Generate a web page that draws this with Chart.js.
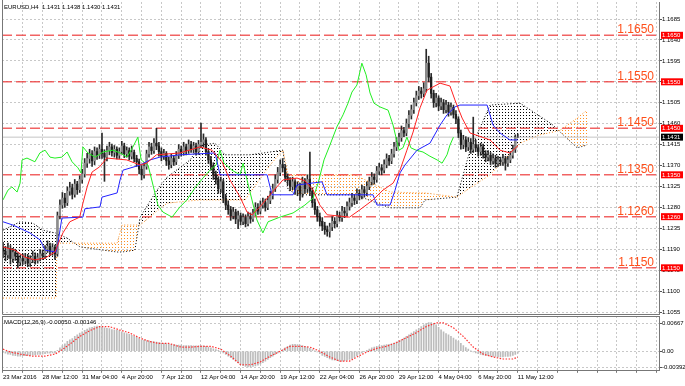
<!DOCTYPE html>
<html><head><meta charset="utf-8">
<script src="https://cdn.jsdelivr.net/npm/chart.js@4.4.1/dist/chart.umd.min.js"></script>
<style>
html,body{margin:0;padding:0;background:#fff;width:685px;height:386px;overflow:hidden;}
#main{position:absolute;left:0;top:0;}
#macd{position:absolute;left:0;top:300px;}
</style></head><body>
<canvas id="main" width="685" height="320"></canvas>
<canvas id="macd" width="685" height="86"></canvas>
<script>
const symbolTitle = 'EURUSD,H4  1.1431 1.1438 1.1430 1.1431';
const macdTitle = 'MACD(12,26,9) -0.00050 -0.00146';
const bid = 1.1431;
const levels = [1.1650, 1.1550, 1.1450, 1.1350, 1.1260, 1.1150];
const levelLabels = ['1.1650', '1.1550', '1.1450', '1.1350', '1.1260', '1.1150'];
const priceTicks = [1.1055,1.1100,1.1145,1.1190,1.1235,1.1280,1.1325,1.1370,1.1415,1.1460,1.1505,1.1550,1.1595,1.1640,1.1685];
const macdTicks = [0.00667, 0, -0.00392];
const macdTickLabels = ['0.00667', '0.00', '-0.00392'];
const xLabelBars = [0,16,32,48,64,80,96,112,128,144,160,176,192,208];
const xLabels = ['23 Mar 2016','28 Mar 12:00','31 Mar 04:00','4 Apr 20:00','7 Apr 12:00','12 Apr 04:00','14 Apr 20:00','19 Apr 12:00','22 Apr 04:00','26 Apr 20:00','29 Apr 12:00','4 May 04:00','6 May 20:00','11 May 12:00'];

const opens = [
1.1195,1.1186,1.1178,1.1192,1.1170,1.1183,1.1175,1.1162,1.1170,1.1165,
1.1172,1.1160,1.1168,1.1175,1.1166,1.1172,1.1180,1.1176,1.1190,1.1196,
1.1185,1.1194,1.1180,1.1262,1.1285,1.1300,1.1290,1.1315,1.1322,1.1308,
1.1330,1.1318,1.1340,1.1352,1.1375,1.1385,1.1395,1.1380,1.1400,1.1392,
1.1405,1.1396,1.1388,1.1402,1.1410,1.1398,1.1405,1.1392,1.1400,1.1412,
1.1395,1.1402,1.1390,1.1398,1.1385,1.1378,1.1362,1.1350,1.1368,1.1395,
1.1410,1.1402,1.1418,1.1412,1.1400,1.1390,1.1396,1.1380,1.1372,1.1385,
1.1378,1.1392,1.1405,1.1398,1.1410,1.1402,1.1415,1.1405,1.1412,1.1400,
1.1415,1.1420,1.1425,1.1400,1.1382,1.1370,1.1350,1.1340,1.1320,1.1335,
1.1300,1.1285,1.1275,1.1262,1.1270,1.1255,1.1262,1.1250,1.1258,1.1245,
1.1260,1.1255,1.1268,1.1280,1.1272,1.1285,1.1290,1.1280,1.1295,1.1305,
1.1320,1.1340,1.1355,1.1372,1.1365,1.1345,1.1338,1.1325,1.1335,1.1318,
1.1325,1.1310,1.1335,1.1320,1.1340,1.1315,1.1290,1.1275,1.1260,1.1250,
1.1240,1.1232,1.1228,1.1238,1.1250,1.1245,1.1262,1.1258,1.1272,1.1268,
1.1282,1.1290,1.1300,1.1295,1.1310,1.1305,1.1318,1.1312,1.1325,1.1335,
1.1345,1.1340,1.1358,1.1365,1.1360,1.1372,1.1385,1.1380,1.1395,1.1410,
1.1420,1.1430,1.1445,1.1440,1.1460,1.1478,1.1490,1.1505,1.1520,1.1530,
1.1525,1.1535,1.1590,1.1560,1.1525,1.1505,1.1515,1.1498,1.1505,1.1490,
1.1500,1.1485,1.1495,1.1480,1.1470,1.1440,1.1415,1.1425,1.1410,1.1420,
1.1405,1.1415,1.1408,1.1400,1.1410,1.1395,1.1388,1.1392,1.1380,1.1385,
1.1375,1.1382,1.1378,1.1385,1.1375,1.1382,1.1392,1.1405,1.1431];
const highs = [
1.1205,1.1196,1.1203,1.1198,1.1192,1.1190,1.1182,1.1178,1.1180,1.1181,
1.1179,1.1176,1.1186,1.1182,1.1180,1.1189,1.1188,1.1198,1.1208,1.1203,
1.1202,1.1199,1.1270,1.1296,1.1312,1.1310,1.1324,1.1334,1.1330,1.1340,
1.1336,1.1348,1.1362,1.1385,1.1396,1.1405,1.1402,1.1410,1.1408,1.1415,
1.1440,1.1404,1.1412,1.1420,1.1416,1.1413,1.1410,1.1408,1.1422,1.1418,
1.1410,1.1408,1.1412,1.1403,1.1392,1.1384,1.1370,1.1376,1.1403,1.1420,
1.1418,1.1428,1.1450,1.1420,1.1408,1.1405,1.1400,1.1388,1.1394,1.1392,
1.1400,1.1415,1.1412,1.1420,1.1416,1.1425,1.1422,1.1420,1.1418,1.1424,
1.1461,1.1438,1.1430,1.1406,1.1390,1.1376,1.1358,1.1346,1.1345,1.1340,
1.1308,1.1294,1.1282,1.1280,1.1276,1.1272,1.1268,1.1266,1.1264,1.1270,
1.1268,1.1276,1.1290,1.1288,1.1294,1.1300,1.1298,1.1304,1.1315,1.1330,
1.1350,1.1366,1.1382,1.1385,1.1372,1.1352,1.1344,1.1345,1.1340,1.1335,
1.1332,1.1345,1.1342,1.1350,1.1399,1.1322,1.1298,1.1282,1.1268,1.1258,
1.1248,1.1240,1.1246,1.1260,1.1258,1.1272,1.1270,1.1282,1.1280,1.1292,
1.1300,1.1310,1.1308,1.1320,1.1318,1.1328,1.1325,1.1335,1.1345,1.1355,
1.1352,1.1368,1.1375,1.1372,1.1382,1.1395,1.1392,1.1405,1.1420,1.1430,
1.1440,1.1455,1.1452,1.1470,1.1488,1.1500,1.1515,1.1530,1.1540,1.1538,
1.1548,1.1620,1.1605,1.1568,1.1532,1.1525,1.1520,1.1515,1.1512,1.1510,
1.1506,1.1504,1.1500,1.1488,1.1475,1.1446,1.1435,1.1432,1.1430,1.1428,
1.1474,1.1425,1.1415,1.1418,1.1416,1.1402,1.1402,1.1398,1.1395,1.1392,
1.1390,1.1388,1.1394,1.1390,1.1390,1.1400,1.1414,1.1436,1.1438];
const lows = [
1.1172,1.1165,1.1170,1.1158,1.1162,1.1166,1.1150,1.1155,1.1157,1.1158,
1.1152,1.1153,1.1161,1.1158,1.1160,1.1165,1.1168,1.1170,1.1183,1.1176,
1.1177,1.1168,1.1175,1.1255,1.1278,1.1280,1.1284,1.1306,1.1298,1.1302,
1.1308,1.1312,1.1332,1.1345,1.1366,1.1375,1.1368,1.1372,1.1383,1.1385,
1.1385,1.1336,1.1380,1.1393,1.1390,1.1388,1.1384,1.1385,1.1395,1.1387,
1.1388,1.1382,1.1384,1.1378,1.1368,1.1352,1.1339,1.1343,1.1362,1.1388,
1.1394,1.1396,1.1404,1.1390,1.1380,1.1383,1.1370,1.1362,1.1365,1.1370,
1.1372,1.1385,1.1390,1.1392,1.1393,1.1396,1.1398,1.1397,1.1392,1.1394,
1.1408,1.1410,1.1392,1.1374,1.1360,1.1340,1.1330,1.1310,1.1312,1.1290,
1.1275,1.1265,1.1252,1.1255,1.1245,1.1234,1.1242,1.1243,1.1238,1.1240,
1.1246,1.1250,1.1262,1.1265,1.1266,1.1278,1.1272,1.1275,1.1288,1.1298,
1.1314,1.1332,1.1348,1.1356,1.1336,1.1328,1.1316,1.1318,1.1308,1.1305,
1.1295,1.1302,1.1310,1.1312,1.1305,1.1280,1.1265,1.1250,1.1240,1.1230,
1.1222,1.1218,1.1216,1.1230,1.1236,1.1238,1.1250,1.1250,1.1258,1.1262,
1.1274,1.1282,1.1286,1.1288,1.1296,1.1298,1.1302,1.1305,1.1318,1.1328,
1.1330,1.1334,1.1350,1.1350,1.1354,1.1365,1.1370,1.1374,1.1388,1.1402,
1.1412,1.1422,1.1432,1.1434,1.1452,1.1470,1.1482,1.1498,1.1512,1.1515,
1.1518,1.1528,1.1550,1.1515,1.1495,1.1496,1.1488,1.1490,1.1482,1.1483,
1.1476,1.1478,1.1472,1.1460,1.1430,1.1405,1.1406,1.1400,1.1402,1.1396,
1.1398,1.1400,1.1390,1.1392,1.1386,1.1378,1.1380,1.1372,1.1373,1.1366,
1.1368,1.1370,1.1370,1.1360,1.1368,1.1376,1.1386,1.1398,1.1430];
const closes = [
1.1186,1.1178,1.1192,1.1170,1.1183,1.1175,1.1162,1.1170,1.1165,1.1172,
1.1160,1.1168,1.1175,1.1166,1.1172,1.1180,1.1176,1.1190,1.1196,1.1185,
1.1194,1.1180,1.1262,1.1285,1.1300,1.1290,1.1315,1.1322,1.1308,1.1330,
1.1318,1.1340,1.1352,1.1375,1.1385,1.1395,1.1380,1.1400,1.1392,1.1405,
1.1396,1.1388,1.1402,1.1410,1.1398,1.1405,1.1392,1.1400,1.1412,1.1395,
1.1402,1.1390,1.1398,1.1385,1.1378,1.1362,1.1350,1.1368,1.1395,1.1410,
1.1402,1.1418,1.1412,1.1400,1.1390,1.1396,1.1380,1.1372,1.1385,1.1378,
1.1392,1.1405,1.1398,1.1410,1.1402,1.1415,1.1405,1.1412,1.1400,1.1415,
1.1420,1.1425,1.1400,1.1382,1.1370,1.1350,1.1340,1.1320,1.1335,1.1300,
1.1285,1.1275,1.1262,1.1270,1.1255,1.1262,1.1250,1.1258,1.1245,1.1260,
1.1255,1.1268,1.1280,1.1272,1.1285,1.1290,1.1280,1.1295,1.1305,1.1320,
1.1340,1.1355,1.1372,1.1365,1.1345,1.1338,1.1325,1.1335,1.1318,1.1325,
1.1310,1.1335,1.1320,1.1340,1.1315,1.1290,1.1275,1.1260,1.1250,1.1240,
1.1232,1.1228,1.1238,1.1250,1.1245,1.1262,1.1258,1.1272,1.1268,1.1282,
1.1290,1.1300,1.1295,1.1310,1.1305,1.1318,1.1312,1.1325,1.1335,1.1345,
1.1340,1.1358,1.1365,1.1360,1.1372,1.1385,1.1380,1.1395,1.1410,1.1420,
1.1430,1.1445,1.1440,1.1460,1.1478,1.1490,1.1505,1.1520,1.1530,1.1525,
1.1535,1.1590,1.1560,1.1525,1.1505,1.1515,1.1498,1.1505,1.1490,1.1500,
1.1485,1.1495,1.1480,1.1470,1.1440,1.1415,1.1425,1.1410,1.1420,1.1405,
1.1415,1.1408,1.1400,1.1410,1.1395,1.1388,1.1392,1.1380,1.1385,1.1375,
1.1382,1.1378,1.1385,1.1375,1.1382,1.1392,1.1405,1.1431,1.1431];

const tenkanBars = [0,4.8,8.9,12.9,17,21,21.8,24.2,27,31,32.3,34,36,39,42,50,55.4,58,62,71.5,79.6,84.4,88.5,91.7,95.8,98.6,100.6,103.8,107.9,113.1,118.8,122,125.3,128,131,140,144,149.5,153.5,157.6,160.4,163.2,165.7,168.5,171.3,176.6,180.6,182.6,185.5,188.7,196.8,200.8,204.8,208];
const tenkanVals = [1.1195,1.1188,1.1173,1.1167,1.1171,1.1184,1.1195,1.1225,1.1249,1.1259,1.1289,1.1324,1.1356,1.1367,1.1386,1.1382,1.1371,1.1375,1.1393,1.1397,1.1410,1.1403,1.1378,1.1339,1.1302,1.1270,1.1264,1.1281,1.1307,1.1339,1.1343,1.1337,1.1317,1.1285,1.1264,1.1259,1.1274,1.1296,1.1317,1.1332,1.1360,1.1403,1.1442,1.1494,1.1532,1.1547,1.1541,1.1511,1.1472,1.1440,1.1425,1.1403,1.1397,1.1412];
const kijunBars = [0,4,10.9,15,17,21.4,22.2,23.8,32.3,33.1,39.2,40,46.1,47.3,48.5,55.4,59.4,63.4,71.5,85.7,87.7,106.7,108.7,117.2,118.8,128.9,130.9,149.5,151.1,156.4,158.4,160.4,162.4,167.3,172.5,176.6,179.4,182.6,184.6,195.6,198,200.8,204.8,208];
const kijunVals = [1.1249,1.1242,1.1225,1.1210,1.1188,1.1184,1.1203,1.1257,1.1259,1.1277,1.1281,1.1302,1.1311,1.1339,1.1360,1.1371,1.1382,1.1388,1.1393,1.1397,1.1350,1.1350,1.1307,1.1307,1.1328,1.1335,1.1307,1.1307,1.1285,1.1285,1.1317,1.1354,1.1371,1.1403,1.1418,1.1457,1.1479,1.1496,1.1500,1.1500,1.1457,1.1440,1.1425,1.1425];
const chikouBars = [0,2,3.6,5.7,6.9,7.7,9.7,12.9,14.9,17,19,21,23.8,25.9,27.9,30.3,31.5,32.3,34.3,37.2,40.4,44.4,47.3,50.1,52.5,54.5,55.8,58.6,60.6,62.6,64.6,68.3,71.5,74.3,77.6,80.8,83.6,86.1,87.7,89.3,92.5,95.8,97,98.6,100.6,102.6,105,107.1,111.9,117.2,122,125.3,127.3,129.7,132.1,134.9,137.4,139.4,141,143,145,146.7,148.3,149.9,152.3,155.6,157.6,160,161.6,163.2,164.8,166.9,169.7,172.5,175.4,177.4,179.4,180.6,182];
const chikouVals = [1.1296,1.1317,1.1324,1.1313,1.1332,1.1382,1.1386,1.1378,1.1397,1.1403,1.1388,1.1386,1.1388,1.1399,1.1378,1.1365,1.1354,1.1410,1.1397,1.1388,1.1399,1.1403,1.1397,1.1388,1.1410,1.1431,1.1382,1.1371,1.1328,1.1285,1.1270,1.1259,1.1281,1.1296,1.1322,1.1343,1.1360,1.1371,1.1403,1.1375,1.1360,1.1350,1.1375,1.1339,1.1296,1.1253,1.1225,1.1249,1.1259,1.1268,1.1285,1.1300,1.1332,1.1382,1.1414,1.1453,1.1479,1.1504,1.1528,1.1543,1.1590,1.1565,1.1526,1.1504,1.1496,1.1489,1.1457,1.1403,1.1408,1.1431,1.1408,1.1403,1.1399,1.1390,1.1382,1.1375,1.1393,1.1414,1.1431];
const cloudBars = [0,6.9,12.1,16.2,21,21.4,21.8,25.9,31.1,46.1,48.1,53.3,55.4,62.2,66.3,75.6,79.6,85.7,89.7,97.8,99.8,107.9,113.1,115.2,120,142.2,156.4,168.5,170.5,183.4,188.7,196.8,208.9,217,222.2,225.1,232,236];
const spanB = [1.1231,1.1249,1.1246,1.1231,1.1225,1.1225,1.1223,1.1214,1.1195,1.1184,1.1184,1.1188,1.1259,1.1317,1.1345,1.1382,1.1414,1.1418,1.1393,1.1393,1.1393,1.1399,1.1403,1.1317,1.1307,1.1307,1.1279,1.1279,1.1296,1.1302,1.1403,1.1500,1.1504,1.1476,1.1457,1.1442,1.1408,1.1414];
const spanA = [1.1085,1.1085,1.1085,1.1085,1.1085,1.1085,1.1203,1.1203,1.1203,1.1203,1.1242,1.1242,1.1242,1.1272,1.1289,1.1294,1.1296,1.1296,1.1296,1.1296,1.1311,1.1371,1.1403,1.1350,1.1350,1.1350,1.1313,1.1311,1.1311,1.1302,1.1322,1.1350,1.1418,1.1436,1.1442,1.1446,1.1472,1.1489];

const macdHist = [
-0.0003,-0.0005,-0.0007,-0.0008,-0.0010,-0.0011,-0.0012,-0.0012,-0.0011,-0.0011,
-0.0010,-0.0010,-0.0009,-0.0009,-0.0008,-0.0008,-0.0007,-0.0006,-0.0005,-0.0005,
-0.0004,-0.0004,0.0002,0.0008,0.0014,0.0018,0.0024,0.0028,0.0031,0.0036,
0.0040,0.0044,0.0047,0.0051,0.0054,0.0057,0.0058,0.0060,0.0061,0.0060,
0.0059,0.0057,0.0056,0.0055,0.0053,0.0052,0.0051,0.0050,0.0047,0.0045,
0.0043,0.0041,0.0039,0.0036,0.0034,0.0031,0.0028,0.0027,0.0026,0.0025,
0.0024,0.0023,0.0022,0.0021,0.0020,0.0019,0.0018,0.0017,0.0016,0.0016,
0.0015,0.0015,0.0015,0.0014,0.0014,0.0014,0.0014,0.0013,0.0013,0.0013,
0.0013,0.0013,0.0012,0.0010,0.0008,0.0006,0.0004,0.0002,-0.0001,-0.0004,
-0.0008,-0.0012,-0.0016,-0.0020,-0.0024,-0.0028,-0.0032,-0.0035,-0.0037,-0.0038,
-0.0038,-0.0037,-0.0036,-0.0034,-0.0031,-0.0028,-0.0024,-0.0020,-0.0016,-0.0012,
-0.0008,-0.0004,0.0000,0.0004,0.0008,0.0012,0.0015,0.0017,0.0017,0.0016,
0.0015,0.0014,0.0012,0.0010,0.0007,0.0004,0.0001,-0.0002,-0.0006,-0.0010,
-0.0013,-0.0016,-0.0019,-0.0021,-0.0022,-0.0023,-0.0024,-0.0024,-0.0023,-0.0022,
-0.0020,-0.0018,-0.0015,-0.0011,-0.0007,-0.0004,-0.0001,0.0002,0.0005,0.0008,
0.0010,0.0012,0.0013,0.0014,0.0015,0.0016,0.0017,0.0018,0.0020,0.0022,
0.0025,0.0028,0.0032,0.0036,0.0040,0.0044,0.0048,0.0052,0.0056,0.0060,
0.0064,0.0068,0.0070,0.0070,0.0068,0.0064,0.0058,0.0052,0.0047,0.0043,
0.0040,0.0036,0.0032,0.0028,0.0024,0.0019,0.0014,0.0009,0.0005,0.0001,
-0.0002,-0.0004,-0.0006,-0.0008,-0.0009,-0.0010,-0.0011,-0.0012,-0.0013,-0.0013,
-0.0014,-0.0014,-0.0014,-0.0013,-0.0013,-0.0012,-0.0010,-0.0008,-0.0005];
const signalBars = [0,3,7,12,17,21,23,27,31,35,39,43,47,51,55,59,63,67,72,76,80,84,88,92,96,100,104,108,112,116,120,124,128,132,136,140,143,147,151,155,159,163,167,171,175,178,182,186,190,194,198,202,206,208];
const signalVals = [0.0005,-0.0002,-0.0007,-0.0012,-0.0012,-0.0007,0.0000,0.0017,0.0036,0.0050,0.0060,0.0060,0.0052,0.0045,0.0033,0.0024,0.0019,0.0019,0.0010,0.0010,0.0012,0.0012,0.0005,-0.0012,-0.0033,-0.0033,-0.0026,-0.0012,0.0000,0.0012,0.0012,0.0010,0.0000,-0.0014,-0.0024,-0.0024,-0.0014,-0.0002,0.0007,0.0012,0.0021,0.0033,0.0045,0.0060,0.0069,0.0069,0.0057,0.0036,0.0010,-0.0007,-0.0014,-0.0019,-0.0019,-0.00146];

// ---- layout constants ----
const F = "'Liberation Sans', Arial, sans-serif";
const xMin = -0.4, xMax = 265.05;
const yMin = 1.10507, yMax = 1.17216;
const macdMin = -0.00453, macdMax = 0.00858;
const gridBars = [];
for (let b = 0; b <= 264; b += 8) gridBars.push(b);

const pts = (xs, ys) => xs.map((x, i) => ({x: x, y: ys[i]}));

function dotPattern(color) {
  const c = document.createElement('canvas');
  c.width = 3; c.height = 3;
  const g = c.getContext('2d');
  g.fillStyle = color; g.fillRect(1, 1, 1, 1);
  return document.getElementById('main').getContext('2d').createPattern(c, 'repeat');
}
const patBlack = dotPattern('#000000');
const patOrange = dotPattern('#ff9020');

const mainDecor = {
  id: 'mainDecor',
  afterDraw(chart) {
    const {ctx, chartArea: a, scales: {y}} = chart;
    ctx.save();
    ctx.strokeStyle = '#777'; ctx.lineWidth = 1;
    ctx.beginPath();
    ctx.moveTo(Math.round(a.left) + 0.5, 0);
    ctx.lineTo(Math.round(a.left) + 0.5, Math.round(a.bottom) + 0.5);
    ctx.lineTo(Math.round(a.right), Math.round(a.bottom) + 0.5);
    ctx.stroke();
    ctx.font = '12px ' + F; ctx.fillStyle = '#ff4f1a';
    ctx.textAlign = 'right'; ctx.textBaseline = 'alphabetic';
    levels.forEach((lv, k) => ctx.fillText(levelLabels[k], a.right - 5, y.getPixelForValue(lv) - 2));
    ctx.font = '6px ' + F; ctx.textAlign = 'left'; ctx.textBaseline = 'middle';
    levels.forEach((lv, k) => {
      const py = y.getPixelForValue(lv);
      ctx.fillStyle = '#ff0000'; ctx.fillRect(a.right + 2, py - 3.5, 22, 7);
      ctx.fillStyle = '#ffffff'; ctx.fillText(levelLabels[k], a.right + 3, py + 0.5);
    });
    const pb = y.getPixelForValue(bid);
    ctx.fillStyle = '#000'; ctx.fillRect(a.right + 2, pb - 3.5, 22, 7);
    ctx.fillStyle = '#fff'; ctx.fillText(bid.toFixed(4), a.right + 3, pb + 0.5);
    ctx.fillStyle = '#000'; ctx.fillText(symbolTitle, 4, 7.5);
    ctx.restore();
  }
};

const macdDecor = {
  id: 'macdDecor',
  afterDraw(chart) {
    const {ctx, chartArea: a} = chart;
    ctx.save();
    ctx.strokeStyle = '#777'; ctx.lineWidth = 1;
    ctx.strokeRect(Math.round(a.left) + 0.5, Math.round(a.top) + 0.5, Math.round(a.right - a.left), Math.round(a.bottom - a.top));
    ctx.font = '6px ' + F; ctx.fillStyle = '#000'; ctx.textAlign = 'left'; ctx.textBaseline = 'middle';
    ctx.fillText(macdTitle, 4, a.top + 6);
    ctx.restore();
  }
};

const bars = closes.map((c, i) => i);
const hline = (v, color, width, dash, order) => ({
  type: 'line', data: [{x: xMin, y: v}, {x: xMax, y: v}], borderColor: color, borderWidth: width,
  borderDash: dash, pointRadius: 0, fill: false, order: order
});

const mainDatasets = [
  {type: 'line', data: pts(cloudBars, spanB), borderColor: '#000', borderWidth: 1, borderDash: [1, 2],
   pointRadius: 0, tension: 0, order: 30, fill: {target: '+1', above: patBlack, below: patOrange}},
  {type: 'line', data: pts(cloudBars, spanA), borderColor: '#ff9020', borderWidth: 1, borderDash: [1, 2],
   pointRadius: 0, tension: 0, order: 29, fill: false},
  ...levels.map(lv => hline(lv, 'rgba(238,60,60,0.8)', 1.5, [10, 4], 20)),
  hline(bid, '#c4c4c4', 1, [], 19),
  {type: 'bar', data: bars.map(i => ({x: i, y: [lows[i], highs[i]]})), backgroundColor: '#2a2a2a',
   barThickness: 1, grouped: false, order: 8},
  {type: 'bar', data: bars.map(i => ({x: i, y: [opens[i], closes[i]]})),
   backgroundColor: c => (closes[c.dataIndex] >= opens[c.dataIndex] ? '#8c8c8c' : '#1e1e1e'),
   barThickness: 1.6, grouped: false, order: 7},
  {type: 'line', data: pts(chikouBars, chikouVals), borderColor: '#22ee22', borderWidth: 1, pointRadius: 0, fill: false, order: 3},
  {type: 'line', data: pts(kijunBars, kijunVals), borderColor: '#2222ff', borderWidth: 1, pointRadius: 0, fill: false, order: 2},
  {type: 'line', data: pts(tenkanBars, tenkanVals), borderColor: '#ff2222', borderWidth: 1, pointRadius: 0, fill: false, order: 1}
];

new Chart(document.getElementById('main'), {
  type: 'line',
  data: {datasets: mainDatasets},
  options: {
    animation: false, responsive: false, devicePixelRatio: 1, events: [],
    layout: {padding: {left: 2, top: 2, right: 0, bottom: 6}},
    plugins: {legend: {display: false}, tooltip: {enabled: false}},
    scales: {
      x: {type: 'linear', min: xMin, max: xMax, offset: false,
          afterBuildTicks: s => { s.ticks = gridBars.map(v => ({value: v})); },
          grid: {color: '#c8c8c8', drawTicks: false, offset: false},
          border: {display: false, dash: [2, 2]},
          ticks: {display: false}},
      y: {type: 'linear', position: 'right', min: yMin, max: yMax,
          afterBuildTicks: s => { s.ticks = priceTicks.map(v => ({value: v})); },
          afterFit: s => { s.width = 26; },
          grid: {color: '#c8c8c8', drawTicks: true, tickLength: 3, tickColor: '#555'},
          border: {display: true, color: '#777', dash: [2, 2]},
          ticks: {font: {family: F, size: 6, lineHeight: 0.5}, color: '#000', padding: 0,
                  callback: v => v.toFixed(4)}}
    }
  },
  plugins: [mainDecor]
});

new Chart(document.getElementById('macd'), {
  type: 'line',
  data: {datasets: [
    {type: 'bar', data: bars.map(i => ({x: i, y: macdHist[i]})), backgroundColor: '#bcbcbc',
     barThickness: 1, grouped: false, order: 2},
    {type: 'line', data: pts(signalBars, signalVals), borderColor: '#ff3030', borderWidth: 1.2,
     borderDash: [1.5, 1.5], pointRadius: 0, fill: false, order: 1}
  ]},
  options: {
    animation: false, responsive: false, devicePixelRatio: 1, events: [],
    layout: {padding: {left: 2, top: 16, right: 0, bottom: 4}},
    plugins: {legend: {display: false}, tooltip: {enabled: false}},
    scales: {
      x: {type: 'linear', min: xMin, max: xMax, offset: false,
          afterBuildTicks: s => { s.ticks = gridBars.map(v => ({value: v})); },
          grid: {color: '#c8c8c8', drawTicks: true, tickLength: 3, tickColor: '#777', offset: false},
          border: {display: false, dash: [2, 2]},
          ticks: {autoSkip: false, maxRotation: 0, minRotation: 0, align: 'start', padding: 1,
                  color: '#000', font: {family: F, size: 6},
                  callback: v => { const k = xLabelBars.indexOf(v); return k >= 0 ? xLabels[k] : ''; }}},
      y: {type: 'linear', position: 'right', min: macdMin, max: macdMax,
          afterBuildTicks: s => { s.ticks = macdTicks.map(v => ({value: v})); },
          afterFit: s => { s.width = 26; },
          grid: {color: '#c8c8c8', drawTicks: true, tickLength: 3, tickColor: '#555'},
          border: {display: true, color: '#777', dash: [2, 2]},
          ticks: {font: {family: F, size: 6, lineHeight: 0.5}, color: '#000', padding: 0,
                  callback: (v, i) => macdTickLabels[i]}}
    }
  },
  plugins: [macdDecor]
});
</script>
</body></html>
